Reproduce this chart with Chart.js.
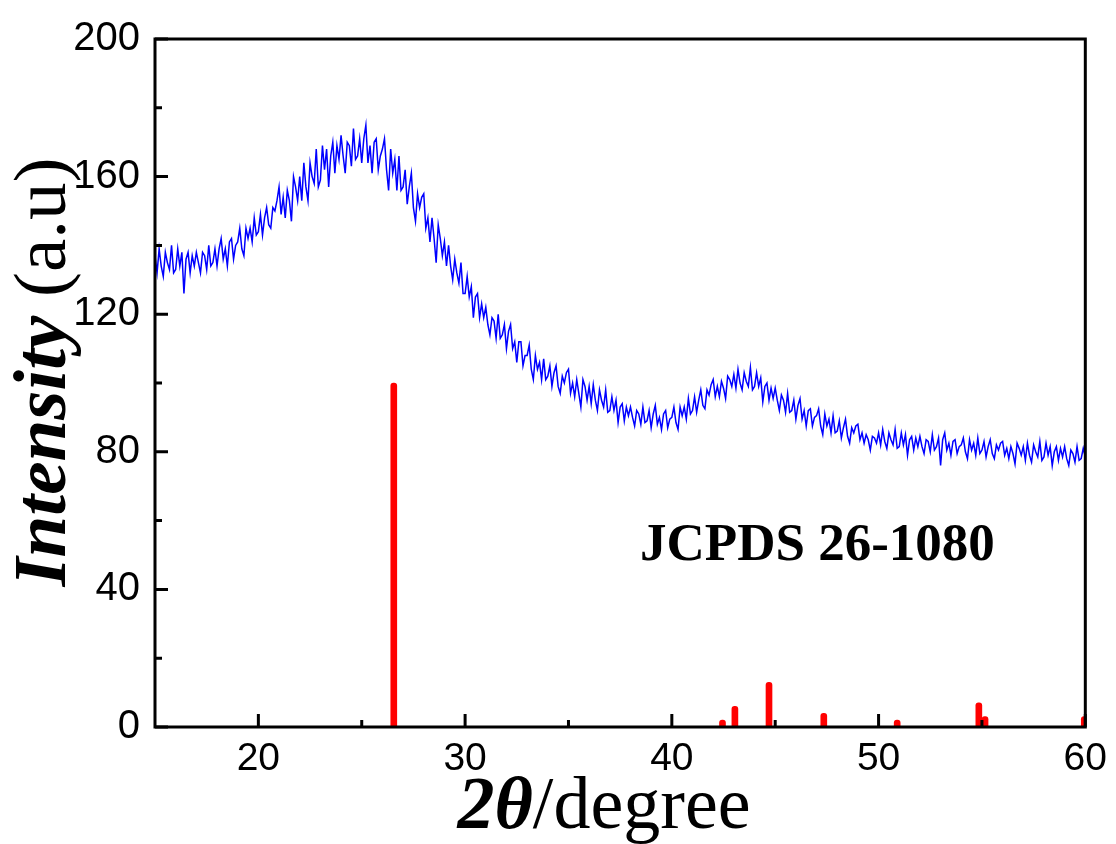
<!DOCTYPE html>
<html>
<head>
<meta charset="utf-8">
<script src="https://cdn.jsdelivr.net/npm/chart.js@4.4.1/dist/chart.umd.min.js"></script>
<style>
  html, body { margin: 0; padding: 0; background: #fff; }
  #wrap { width: 1116px; height: 844px; }
</style>
</head>
<body>
<div id="wrap"><canvas id="xrd"></canvas></div>
<script>
// XRD scan, 2theta from 15 to 60 deg, one reading every 0.1 deg
const scanStart = 15;
const scanStep = 0.1;
const intensity = [
  137,132,139,134,131,138,135,133,140,132,
  133,139,134,138,126,136,138,132,137,134,
  138,135,132,138,137,133,140,134,135,139,
  134,139,142,136,139,134,141,142,136,140,
  141,145,139,137,145,142,145,141,148,143,
  144,149,143,148,151,146,145,151,150,153,
  157,149,154,148,156,153,147,160,157,153,
  160,153,164,157,153,164,160,158,168,157,
  159,169,162,168,157,166,170,161,169,165,
  172,166,161,170,169,163,174,165,166,171,
  164,171,175,164,169,161,170,171,162,166,
  168,171,162,156,168,161,165,156,166,156,
  157,162,152,157,161,151,147,155,151,154,
  155,145,148,141,148,142,135,146,142,137,
  141,134,140,134,130,136,132,129,135,126,
  126,131,125,128,119,125,126,119,123,119,
  122,117,114,119,118,113,120,113,114,117,
  110,115,117,110,112,106,112,112,105,108,
  108,111,104,101,108,104,106,101,107,101,
  102,105,99,103,105,99,97,102,100,103,
  104,97,100,96,101,97,93,101,99,95,
  99,94,99.5,95,92,98,95,93,98,91.5,
  92,96,92,95,88.5,93,94,89,93,90.5,
  93,90,87.5,92,91,88,93,88.5,89,92,
  87,91,93.5,88,90,86.5,91,92,87,89.5,
  90,93,88.5,86.5,93,90.5,93,89.5,95.5,91,
  92,96,91.5,95,98,93.5,92.5,98,96.5,99.5,
  101,96,99,96,100.5,98.5,95.5,102,101,99,
  102.5,98.5,104,100,98,103,100.5,99,104.5,98,
  99,103,99,101.5,94.5,99,100,95,98.5,95.5,
  98.5,95,92,96.5,95,91.5,97,91.5,92,95,
  89.5,93.5,95.5,89.5,92,87.5,92,92.5,87.5,90,
  90.5,92.5,87.5,85,91,87.5,89.5,85.5,90.5,85.5,
  86,89,84,87,89.5,84.5,82.5,87,85.5,87.5,
  88,83.5,85.5,82.5,85,83.5,80.5,84.5,84,82.5,
  85.5,82,86.5,83,81,85.5,83.5,82,86.5,81,
  81.5,85.5,82,85,79,83.5,84.5,80.5,84,81.5,
  84.5,81.5,79.5,83.5,83,80,85,80.5,81.5,84,
  76,83.5,85.5,80.5,82.5,79,83,83.5,79.5,81.5,
  82,84,80,78,83.5,80.5,82.5,79,84,79.5,
  80.5,83,78.5,81.5,83.5,79.5,78,82,80.5,82.5,
  83,79,81,78,81.5,79.5,76.5,82.5,81,79,
  81.5,77.5,82.5,79,77,82,80,78.5,83,77.5,
  78.5,82.5,79,81.5,76,80,81.5,77.5,81,78.5,
  81.5,78,76,80.5,79.5,77,81.5,77.5,78,81,
  78.5
];

// reference pattern JCPDS 26-1080
const refPos = [26.55, 42.45, 43.05, 44.7, 47.35, 50.9, 54.85, 55.15, 59.95];
const refInt = [100, 2, 6, 13, 4, 2, 7, 3, 3];

// axis ticks
const xMajor = [20, 30, 40, 50, 60];
const xMinor = [25, 35, 45, 55];
const yMajor = [0, 40, 80, 120, 160, 200];
const yMinor = [20, 60, 100, 140, 180];

const scanPoints = intensity.map((v, i) => ({ x: +(scanStart + i * scanStep).toFixed(1), y: v }));
const refPoints = refPos.map((p, i) => ({ x: p, y: refInt[i] }));

// frame, inward ticks, axis titles and the card label
const decorations = {
  id: 'decorations',
  afterDraw(chart) {
    const { ctx, chartArea: a, scales: { x, y } } = chart;
    ctx.save();
    ctx.strokeStyle = '#000';
    ctx.lineWidth = 3;
    ctx.lineCap = 'butt';
    ctx.beginPath();
    xMajor.forEach(v => { const p = x.getPixelForValue(v); ctx.moveTo(p, a.bottom); ctx.lineTo(p, a.bottom - 13); });
    xMinor.forEach(v => { const p = x.getPixelForValue(v); ctx.moveTo(p, a.bottom); ctx.lineTo(p, a.bottom - 7); });
    yMajor.forEach(v => { const p = y.getPixelForValue(v); ctx.moveTo(a.left, p); ctx.lineTo(a.left + 13, p); });
    yMinor.forEach(v => { const p = y.getPixelForValue(v); ctx.moveTo(a.left, p); ctx.lineTo(a.left + 7, p); });
    ctx.stroke();
    ctx.strokeRect(a.left, a.top, a.right - a.left, a.bottom - a.top);

    ctx.fillStyle = '#000';
    ctx.textBaseline = 'alphabetic';
    ctx.textAlign = 'left';

    // x title: bold italic "2θ" + regular "/degree"
    const fIt = 'italic bold 74px "Liberation Serif"';
    const fRg = '74px "Liberation Serif"';
    ctx.font = fIt; const w1 = ctx.measureText('2θ').width;
    ctx.font = fRg; const w2 = ctx.measureText('/degree').width;
    let sx = 604 - (w1 + w2) / 2;
    ctx.font = fIt; ctx.fillText('2θ', sx, 828);
    ctx.font = fRg; ctx.fillText('/degree', sx + w1, 828);

    // y title, rotated
    const gIt = 'italic bold 75px "Liberation Serif"';
    const gRg = '75px "Liberation Serif"';
    ctx.font = gIt; const v1 = ctx.measureText('Intensity ').width;
    ctx.font = gRg; const v2 = ctx.measureText('(a.u)').width;
    ctx.save();
    ctx.translate(65, 372);
    ctx.rotate(-Math.PI / 2);
    const sy = -(v1 + v2) / 2;
    ctx.font = gIt; ctx.fillText('Intensity ', sy, 0);
    ctx.font = gRg; ctx.fillText('(a.u)', sy + v1, 0);
    ctx.restore();

    ctx.font = 'bold 53px "Liberation Serif"';
    ctx.fillText('JCPDS 26-1080', 640, 560);
    ctx.restore();
  }
};

new Chart(document.getElementById('xrd'), {
  type: 'line',
  data: {
    datasets: [
      {
        label: 'sample',
        data: scanPoints,
        borderColor: '#0000ff',
        borderWidth: 1.5,
        pointRadius: 0,
        tension: 0,
        order: 2
      },
      {
        type: 'bar',
        label: 'JCPDS 26-1080',
        data: refPoints,
        backgroundColor: '#ff0000',
        barThickness: 6,
        borderRadius: { topLeft: 3, topRight: 3 },
        borderSkipped: 'start',
        order: 1
      }
    ]
  },
  options: {
    responsive: true,
    maintainAspectRatio: false,
    animation: false,
    events: [],
    layout: { padding: { top: 33, right: 30, left: 0, bottom: 0 } },
    plugins: { legend: { display: false }, tooltip: { enabled: false } },
    scales: {
      x: {
        type: 'linear',
        min: 15, max: 60,
        offset: false,
        bounds: 'ticks',
        afterBuildTicks: s => { s.ticks = xMajor.map(v => ({ value: v })); },
        afterFit: s => { s.height = 117; },
        grid: { display: false, drawTicks: false, offset: false },
        border: { display: false },
        ticks: { color: '#000', padding: 9, font: { family: '"Liberation Sans", Arial', size: 39 } }
      },
      y: {
        min: 0, max: 200,
        afterBuildTicks: s => { s.ticks = yMajor.map(v => ({ value: v })); },
        afterFit: s => { s.width = 155; },
        grid: { display: false, drawTicks: false },
        border: { display: false },
        ticks: { color: '#000', padding: 15, font: { family: '"Liberation Sans", Arial', size: 40 } }
      }
    }
  },
  plugins: [decorations]
});
</script>
</body>
</html>
